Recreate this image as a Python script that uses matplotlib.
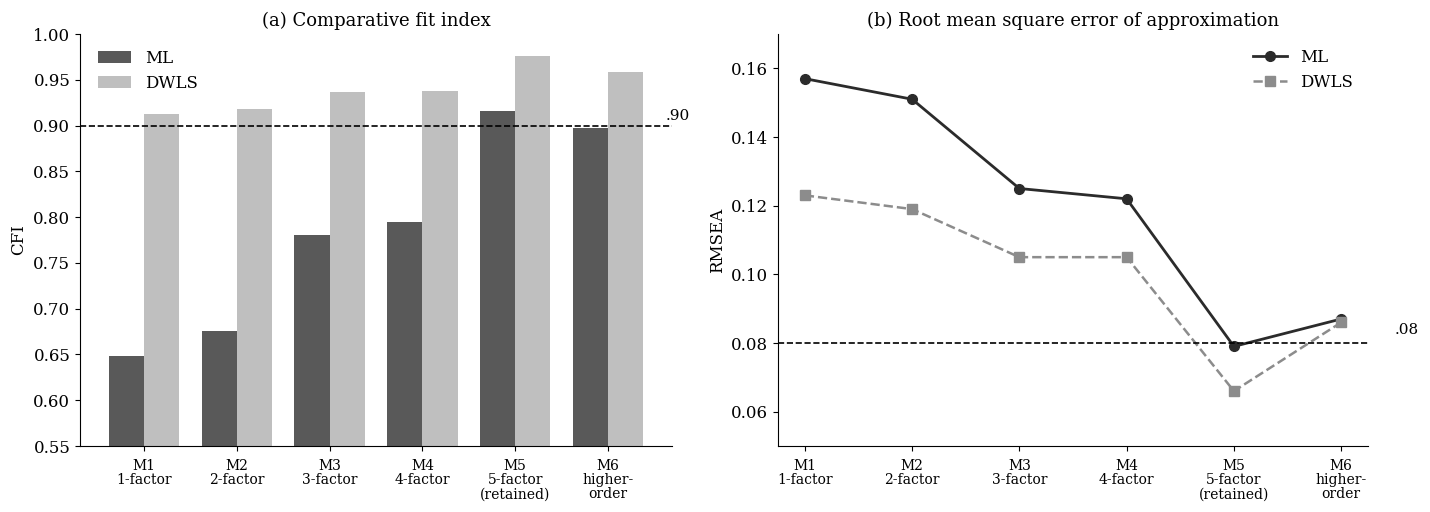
import matplotlib
matplotlib.use("Agg")
import matplotlib.pyplot as plt
import numpy as np

plt.rcParams['font.family'] = ['DejaVu Serif']

models = ["M1\n1-factor", "M2\n2-factor", "M3\n3-factor", "M4\n4-factor",
          "M5\n5-factor\n(retained)", "M6\nhigher-\norder"]
cfi_ml = [0.648, 0.676, 0.781, 0.795, 0.916, 0.897]
cfi_dwls = [0.913, 0.918, 0.937, 0.938, 0.976, 0.959]
rmsea_ml = [0.157, 0.151, 0.125, 0.122, 0.079, 0.087]
rmsea_dwls = [0.123, 0.119, 0.105, 0.105, 0.066, 0.086]

fig = plt.figure(figsize=(14.3, 5.12), dpi=100)
ax1 = fig.add_axes([80/1430, 1-446/512, 592/1430, 412/512])
ax2 = fig.add_axes([778/1430, 1-446/512, 590/1430, 412/512])

x = np.arange(len(models))
w = 0.38
ax1.bar(x - w/2, cfi_ml, w, color="#595959", label="ML")
ax1.bar(x + w/2, cfi_dwls, w, color="#bfbfbf", label="DWLS")
ax1.axhline(0.90, color="black", ls="--", lw=1.2)
ax1.annotate(".90", xy=(0.99, 0.90), xycoords=ax1.get_yaxis_transform(),
             xytext=(0, 2), textcoords="offset points", ha="left", va="bottom", fontsize=11)
ax1.set_ylim(0.55, 1.0)
ax1.set_yticks(np.arange(0.55, 1.001, 0.05))
ax1.set_xlim(-0.69, 5.69)
ax1.set_xticks(x)
ax1.set_xticklabels(models, fontsize=10, linespacing=1.0)
ax1.set_ylabel("CFI", fontsize=12)
ax1.set_title("(a) Comparative fit index", fontsize=13)
ax1.legend(loc="upper left", frameon=False, fontsize=12, bbox_to_anchor=(0.005, 0.998))

ax2.plot(x, rmsea_ml, color="#2b2b2b", marker="o", ms=7, lw=2, label="ML")
ax2.plot(x, rmsea_dwls, color="#8c8c8c", marker="s", ms=7, lw=1.8, ls="--", label="DWLS")
ax2.axhline(0.08, color="black", ls="--", lw=1.2)
ax2.annotate(".08", xy=(1.045, 0.08), xycoords=ax2.get_yaxis_transform(),
             xytext=(0, 4), textcoords="offset points", ha="left", va="bottom", fontsize=11)
ax2.set_ylim(0.05, 0.17)
ax2.set_yticks([0.06, 0.08, 0.10, 0.12, 0.14, 0.16])
ax2.set_xlim(-0.25, 5.25)
ax2.set_xticks(x)
ax2.set_xticklabels(models, fontsize=10, linespacing=1.0)
ax2.set_ylabel("RMSEA", fontsize=12)
ax2.set_title("(b) Root mean square error of approximation", fontsize=13)
ax2.legend(loc="upper right", frameon=False, fontsize=12)

for ax in (ax1, ax2):
    ax.spines["top"].set_visible(False)
    ax.spines["right"].set_visible(False)
    ax.tick_params(axis="y", labelsize=12)
    ax.tick_params(axis="x", pad=6)

fig.savefig("out.png", dpi=100)
